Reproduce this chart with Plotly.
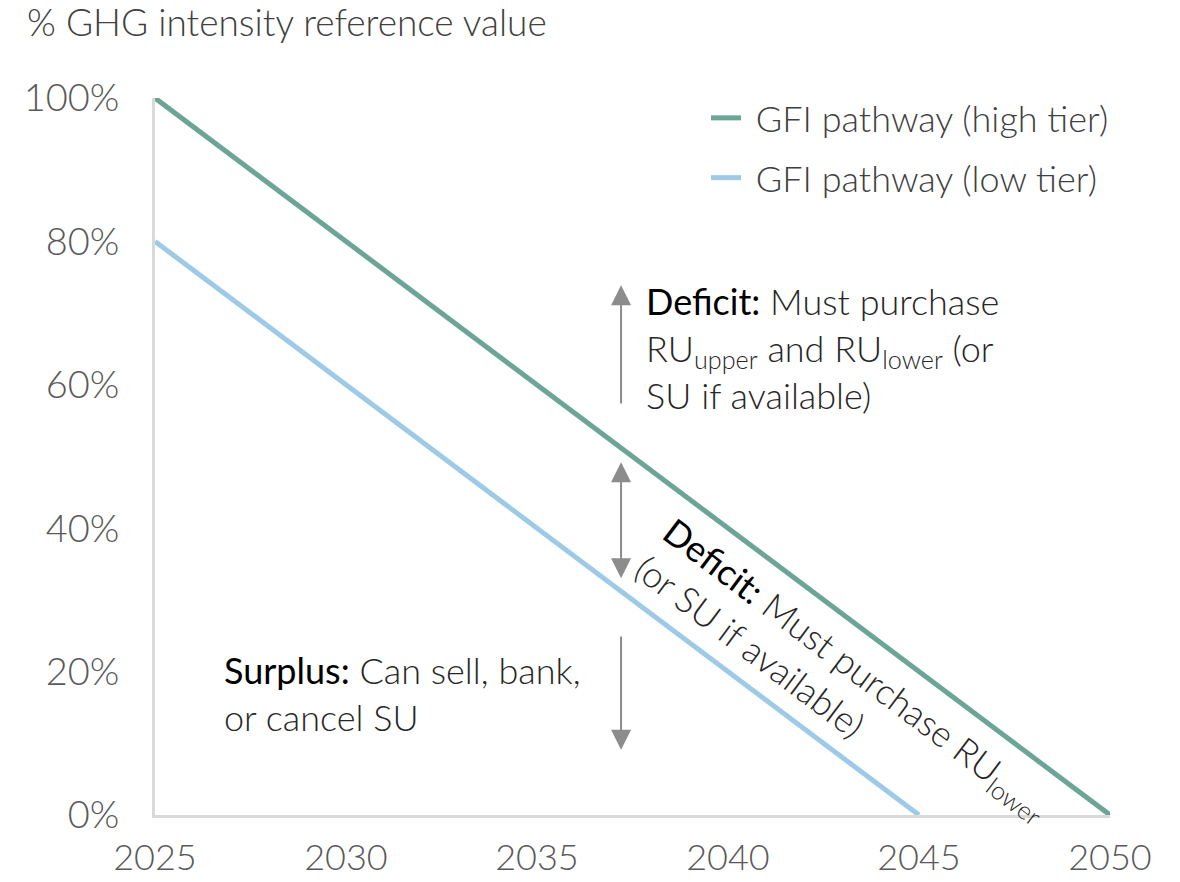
import plotly.graph_objects as go

# pathway data
high_years = [2025, 2050]
high_values = [100, 0]
low_years = [2025, 2045]
low_values = [80, 0]

x_ticks = [2025, 2030, 2035, 2040, 2045, 2050]
y_ticks = [0, 20, 40, 60, 80, 100]
y_labels = [f"{v}%" for v in y_ticks]

GREEN = "#6ba596"
BLUE = "#9dcae6"
ARROW = "#8c8c8c"
FONT = "Lato"
GAP = "\u00a0"  # extra room between legend line and label

fig = go.Figure()
fig.add_trace(go.Scatter(x=high_years, y=high_values, mode="lines", name=GAP + "GFI pathway (high tier)",
                         line=dict(color=GREEN, width=5), cliponaxis=False, legendgroup="a"))
fig.add_trace(go.Scatter(x=low_years, y=low_values, mode="lines", name=GAP + "GFI pathway (low tier)",
                         line=dict(color=BLUE, width=5), cliponaxis=False, legendgroup="b"))

# arrows
arrow_x = 2037.2
arrows = [
    (73.9, 57.2, "end"),
    (49.2, 32.8, "end+start"),
    (9.1, 25.1, "end"),
]
for head, tail, side in arrows:
    fig.add_annotation(x=arrow_x, y=head, ax=arrow_x, ay=tail, xref="x", yref="y", axref="x", ayref="y",
                       text="", showarrow=True, arrowhead=2, arrowsize=2, arrowwidth=2,
                       arrowcolor=ARROW, arrowside=side, standoff=0, startstandoff=0, startarrowhead=2,
                       startarrowsize=2)

bold = '<span style="font-weight:400;color:#000000">{}</span>'
body = dict(size=36, color="#262626", family=FONT, weight=300)
fig.add_annotation(x=2037.8, y=65.1, xref="x", yref="y", xanchor="left", yanchor="middle", align="left",
                   showarrow=False,
                   text=bold.format("Deficit:") + " Must purchase<br>RU<sub>upper</sub> and RU<sub>lower</sub> (or<br>SU if available)",
                   font=body)
fig.add_annotation(x=2026.75, y=16.9, xref="x", yref="y", xanchor="left", yanchor="middle", align="left",
                   showarrow=False,
                   text=bold.format("Surplus:") + " Can sell, bank,<br>or cancel SU",
                   font=body)
fig.add_annotation(x=2043.0, y=17.9, xref="x", yref="y", xanchor="center", yanchor="middle", align="left",
                   showarrow=False, textangle=37,
                   text=bold.format("Deficit:") + " Must purchase RU<sub>lower</sub><br>(or SU if available)",
                   font=body)

# axis title at top-left
fig.add_annotation(x=-0.136, y=1.106, xref="paper", yref="paper", xanchor="left", yanchor="middle",
                   showarrow=False, text="% GHG intensity reference value",
                   font=dict(size=37, color="#404040", family=FONT, weight=300))

# page body adds an 8px margin, so the figure is 16px smaller than the window
fig.update_layout(
    width=1164, height=866,
    margin=dict(l=147, r=62, t=90, b=59),
    plot_bgcolor="white", paper_bgcolor="white",
    font=dict(family=FONT, size=36, color="#595959", weight=300),
    legend=dict(x=0.577, y=1.014, xanchor="left", yanchor="top", tracegroupgap=10,
                font=dict(size=36, color="#404040", family=FONT, weight=300), bgcolor="rgba(0,0,0,0)"),
    xaxis=dict(range=[2025, 2050], tickvals=x_ticks, showgrid=False, zeroline=False, automargin=False,
               showline=True, linecolor="#d9d9d9", linewidth=3, ticklabelstandoff=9,
               tickfont=dict(size=36, color="#595959", family=FONT, weight=300)),
    yaxis=dict(range=[0, 100], tickvals=y_ticks, ticktext=y_labels, showgrid=False, zeroline=False,
               automargin=False, showline=True, linecolor="#d9d9d9", linewidth=3, ticklabelstandoff=25,
               tickfont=dict(size=38, color="#595959", family=FONT, weight=300)),
)

fig.write_html("out.html")
